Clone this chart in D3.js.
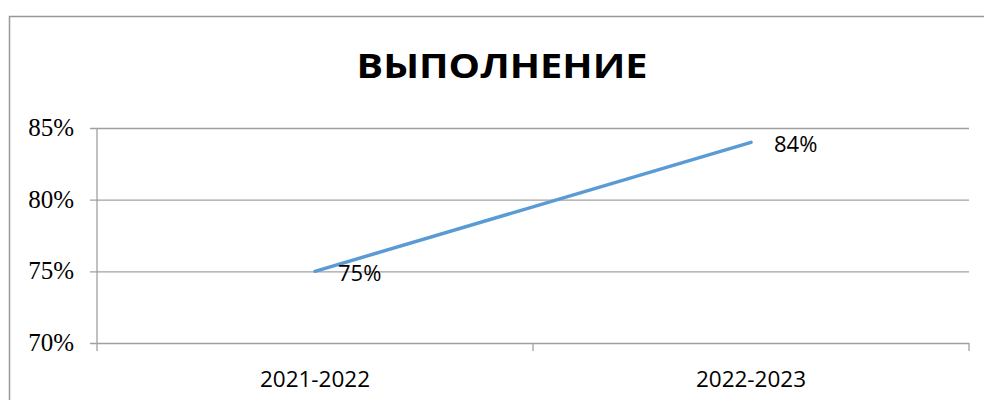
<!DOCTYPE html>
<html>
<head>
<meta charset="utf-8">
<script src="https://cdn.jsdelivr.net/npm/d3@7"></script>
<style>
  body { margin: 0; background: #fff; }
  svg { display: block; }
</style>
</head>
<body>
<div id="graf"></div>
<script>
// datos del gráfico
const categorias = ["2021-2022", "2022-2023"];
const valores = [0.75, 0.84];
const etiquetasY = [0.70, 0.75, 0.80, 0.85];
const titulo = "ВЫПОЛНЕНИЕ";

const ancho = 984, alto = 400;
const margins = { left: 97, top: 128, right: 15, bottom: 57 };
const fmt = d3.format(".0%");

const svg = d3.select("#graf").append("svg")
    .attr("width", ancho)
    .attr("height", alto);

// marco exterior
svg.append("rect")
    .attr("x", 9.5).attr("y", 16.5)
    .attr("width", 990).attr("height", 400)
    .attr("fill", "none")
    .attr("stroke", "#999")
    .attr("stroke-width", 1.5);

// escalas
const x = d3.scaleBand().domain(categorias).range([margins.left, ancho - margins.right]);
const y = d3.scaleLinear().domain([0.70, 0.85]).range([alto - margins.bottom, margins.top]);

// líneas de la cuadrícula (eje Y sin textos)
const gy = svg.append("g")
    .attr("transform", `translate(${margins.left},0)`)
    .call(d3.axisLeft(y)
        .tickValues(etiquetasY)
        .tickSize(-(x.range()[1] - x.range()[0]))
        .tickFormat(""));
gy.select(".domain").remove();
gy.selectAll(".tick text").remove();
gy.selectAll(".tick line")
    .attr("x1", -7)
    .attr("stroke", "#a0a0a0")
    .attr("stroke-width", 1.3);

// textos del eje Y (Times)
svg.selectAll(".etiquetay")
    .data(etiquetasY)
    .join("text")
    .attr("class", "etiquetay")
    .attr("x", margins.left - 23)
    .attr("y", d => y(d) + 8)
    .attr("text-anchor", "end")
    .attr("fill", "#000")
    .style("font-family", '"Liberation Serif"')
    .style("font-size", "25px")
    .text(d => fmt(d));

// línea vertical del eje Y
svg.append("line")
    .attr("x1", margins.left).attr("x2", margins.left)
    .attr("y1", y(0.85)).attr("y2", y(0.70) + 8)
    .attr("stroke", "#a0a0a0").attr("stroke-width", 1.3);

// textos del eje X
svg.selectAll(".etiquetax")
    .data(categorias)
    .join("text")
    .attr("class", "etiquetax")
    .attr("x", d => x(d) + x.bandwidth() / 2)
    .attr("y", y(0.70) + 44)
    .attr("text-anchor", "middle")
    .attr("fill", "#000")
    .style("font-family", '"Open Sans"')
    .style("font-size", "22.5px")
    .text(d => d);

// marcas entre categorías
const limites = [x.range()[0] + x.bandwidth(), x.range()[1]];
svg.selectAll(".marcax")
    .data(limites)
    .join("line")
    .attr("class", "marcax")
    .attr("x1", d => d).attr("x2", d => d)
    .attr("y1", y(0.70)).attr("y2", y(0.70) + 8)
    .attr("stroke", "#a0a0a0").attr("stroke-width", 1.3);

// serie
const puntos = categorias.map((c, i) => ({ c, v: valores[i] }));
const linea = d3.line()
    .x(d => x(d.c) + x.bandwidth() / 2)
    .y(d => y(d.v));

svg.append("path")
    .datum(puntos)
    .attr("d", linea)
    .attr("fill", "none")
    .attr("stroke", "#5b9bd5")
    .attr("stroke-width", 3.5)
    .attr("stroke-linecap", "round");

// etiquetas de datos
svg.selectAll(".etiqueta")
    .data(puntos)
    .join("text")
    .attr("class", "etiqueta")
    .attr("x", d => x(d.c) + x.bandwidth() / 2 + 23)
    .attr("y", d => y(d.v) + 10)
    .attr("fill", "#000")
    .style("font-family", '"Open Sans"')
    .style("font-size", "22px")
    .text(d => fmt(d.v));

// título
svg.append("text")
    .attr("x", 502)
    .attr("y", 78)
    .attr("text-anchor", "middle")
    .attr("textLength", 291)
    .attr("lengthAdjust", "spacingAndGlyphs")
    .attr("fill", "#000")
    .style("font-family", '"Open Sans"')
    .style("font-weight", "bold")
    .style("font-size", "34px")
    .text(titulo);
</script>
</body>
</html>
